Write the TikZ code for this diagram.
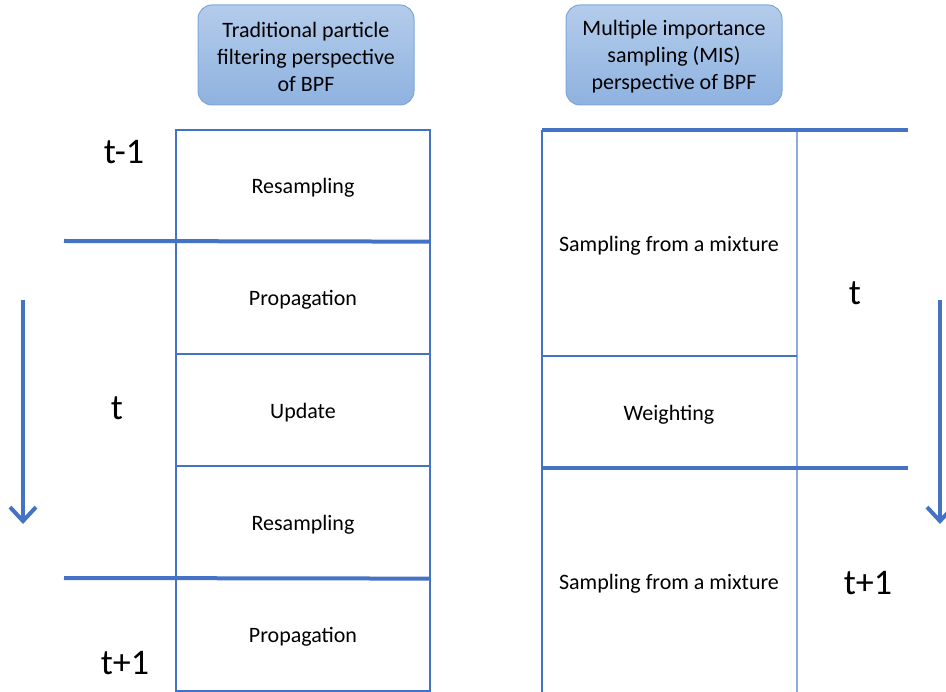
\documentclass[tikz,border=0pt]{standalone}
\usepackage{fontspec}
\setmainfont{Carlito}
\usetikzlibrary{arrows.meta}
\definecolor{ln}{HTML}{4472C4}
\definecolor{lnlight}{HTML}{8FAADC}
\definecolor{hdtop}{HTML}{B4CCEB}
\definecolor{hdbot}{HTML}{8EB2E0}
\definecolor{hdborder}{HTML}{7FA6D6}
\tikzset{
  cell/.style={draw=ln, line width=1.2pt, minimum width=254pt, inner sep=0pt, font=\fontsize{22}{26}\selectfont},
  plain/.style={inner sep=0pt, font=\fontsize{22}{26}\selectfont},
  tlabel/.style={inner sep=0pt, font=\fontsize{36}{40}\selectfont},
  thick line/.style={draw=ln, line width=4pt},
  thin line/.style={draw=ln, line width=1.2pt},
  light line/.style={draw=lnlight, line width=1.6pt},
  header/.style={draw=hdborder, line width=1pt, rounded corners=14pt, top color=hdtop, bottom color=hdbot,
    minimum width=216pt, minimum height=100pt, align=center, inner sep=0pt, font=\fontsize{22}{27}\selectfont},
  timearrow/.style={draw=ln, line width=4pt, -{Straight Barb[length=14pt, width=26pt, line width=4pt]}}
}
\begin{document}
\begin{tikzpicture}[x=1pt, y=-1pt]
\useasboundingbox (0,0) rectangle (946,692);
% headers
\node[header] (h1) at (306,55) {};
\node[align=center, inner sep=0pt, font=\fontsize{22}{27}\selectfont] (h1t) at (306,57) {Traditional particle\\filtering perspective\\of BPF};
\node[header] (h2) at (674,55) {};
\node[align=center, inner sep=0pt, font=\fontsize{22}{27}\selectfont] (h2t) at (674,57) {Multiple importance\\sampling (MIS)\\perspective of BPF};
% left column cells
\node[cell, minimum height=111pt] (c1) at (303,185.5) {};
\node[cell, minimum height=113pt] (c2) at (303,297.5) {};
\node[cell, minimum height=112pt] (c3) at (303,410) {};
\node[cell, minimum height=112pt] (c4) at (303,522) {};
\node[cell, minimum height=113pt] (c5) at (303,634.5) {};
\node[plain] (c1t) at (303,188) {Resampling};
\node[plain] (c2t) at (303,300) {Propagation};
\node[plain] (c3t) at (303,412.5) {Update};
\node[plain] (c4t) at (303,524.5) {Resampling};
\node[plain] (c5t) at (303,637) {Propagation};
% thick separators left
\coordinate (l1a) at (64,241);
\coordinate (l2a) at (64,578);
\draw[thick line] (l1a) -- (c1.south east);
\draw[thick line] (l2a) -- (c4.south east);
% left time labels
\node[tlabel] (tm1) at (124,152) {t-1};
\node[tlabel] (t0) at (117,408) {t};
\node[tlabel] (tp1) at (125,663) {t+1};
% left arrow
\coordinate (a1s) at (23,300);
\coordinate (a1e) at (23,524);
\draw[timearrow] (a1s) -- (a1e);
% right column
\coordinate (r00) at (542,130);
\coordinate (r01) at (797,130);
\coordinate (r02) at (908,130);
\coordinate (r10) at (542,356);
\coordinate (r11) at (797,356);
\coordinate (r20) at (542,468);
\coordinate (r21) at (797,468);
\coordinate (r22) at (908,468);
\coordinate (r30) at (542,692);
\coordinate (r31) at (797,692);
\draw[thin line] (r00) -- (r30);
\draw[light line] (r01) -- (r31);
\draw[thin line] (r10) -- (r11);
\draw[thick line] (r00) -- (r02);
\draw[thick line] (r20) -- (r22);
\node[plain] (s1) at (669,246) {Sampling from a mixture};
\node[plain] (w1) at (669,415) {Weighting};
\node[plain] (s2) at (669,584) {Sampling from a mixture};
\node[tlabel] (rt) at (855,293) {t};
\node[tlabel] (rtp1) at (868,583) {t+1};
% right arrow
\coordinate (a2s) at (940,300);
\coordinate (a2e) at (940,524);
\draw[timearrow] (a2s) -- (a2e);
\end{tikzpicture}
\end{document}
